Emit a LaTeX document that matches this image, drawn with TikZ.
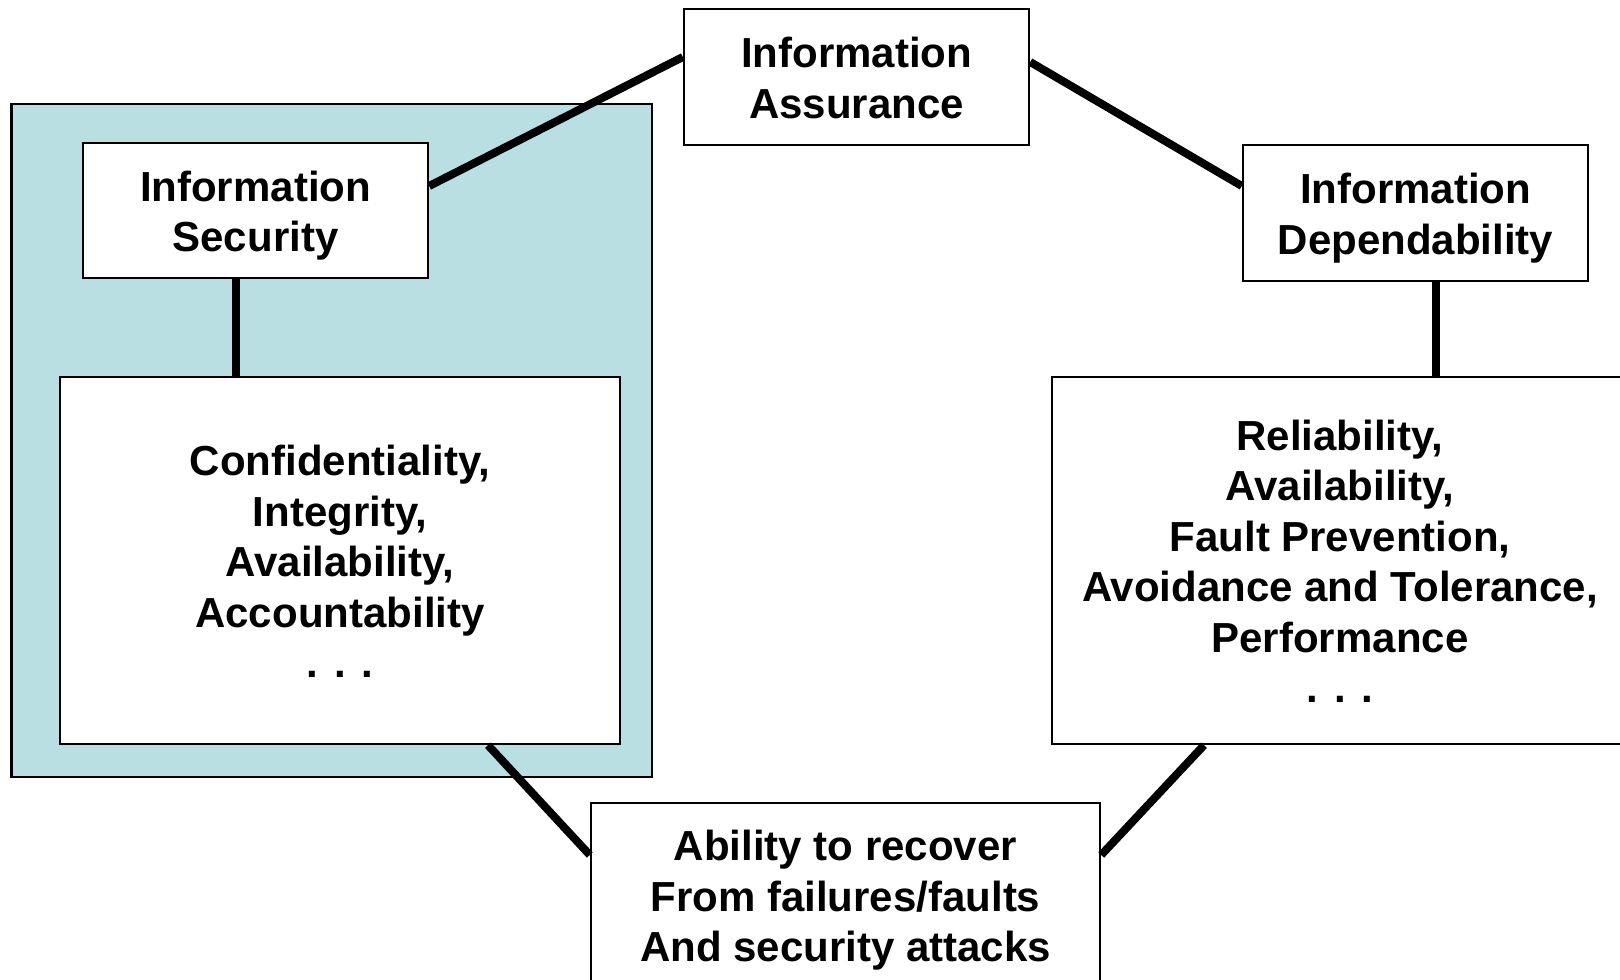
\documentclass[tikz,border=0pt]{standalone}
\usepackage{fontspec}
\setmainfont{Liberation Sans}
\definecolor{panel}{RGB}{185,223,226}
% fixed top and bottom room so every text block sits the same way in its box
\newcommand\hitop{\rule{0pt}{42pt}}
\newcommand\hibot{\rule[-10pt]{0pt}{10pt}}
\begin{document}
\begin{tikzpicture}[x=1pt,y=-1pt,
  box/.style={draw=black, line width=2.4pt, fill=white, inner sep=0pt,
    align=center, font=\bfseries\fontsize{42}{50.5}\selectfont},
  link/.style={line width=8pt}]
\useasboundingbox (0,0) rectangle (1620,980);
\clip (0,0) rectangle (1620,980);
% shaded security panel
\node[draw=black, line width=2.4pt, fill=panel, inner sep=0pt,
  minimum width=640.5pt, minimum height=673pt] (panel) at (331.75,440.5) {};
% boxes
\node[box, minimum width=345pt, minimum height=135pt] (sec) at (255.5,210.5)
  {\hitop Information\\Security\hibot};
\node[box, minimum width=560pt, minimum height=367pt] (conf) at (340,560.5)
  {\hitop Confidentiality,\\Integrity,\\Availability,\\Accountability\\. . .\hibot};
\node[box, minimum width=345pt, minimum height=136pt] (assur) at (856.5,77)
  {\hitop Information\\Assurance\hibot};
\node[box, minimum width=345pt, minimum height=136pt] (dep) at (1415.5,213)
  {\hitop Information\\Dependability\hibot};
\node[box, minimum width=576pt, minimum height=367pt] (rel) at (1340,560.5)
  {\hitop Reliability,\\Availability,\\Fault Prevention,\\Avoidance and Tolerance,\\Performance\\. . .\hibot};
\node[box, minimum width=509pt, minimum height=184pt] (rec) at (845.5,895)
  {\hitop Ability to recover\\From failures/faults\\And security attacks\hibot};
% connectors
\draw[link] (assur.west |- 0,57) -- (sec.east |- 0,186);
\draw[link] (assur.east |- 0,62) -- (dep.west |- 0,186);
\draw[link] (sec.south -| 236,0) -- (conf.north -| 236,0);
\draw[link] (dep.south -| 1436,0) -- (rel.north -| 1436,0);
\draw[link] (conf.south -| 488,0) -- (rec.west |- 0,855);
\draw[link] (rel.south -| 1204,0) -- (rec.east |- 0,855);
\end{tikzpicture}
\end{document}
